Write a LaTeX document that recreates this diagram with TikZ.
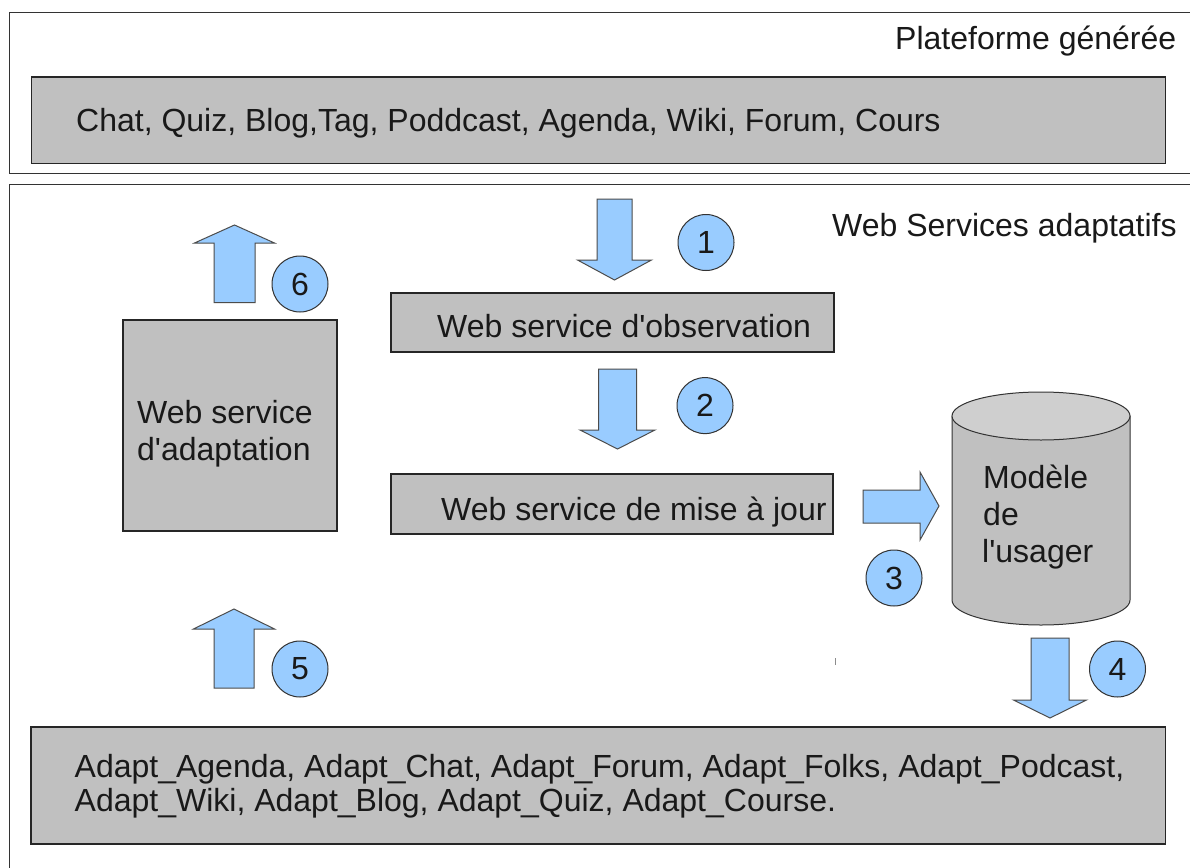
\documentclass[tikz,border=0pt]{standalone}
\usepackage{fontspec}
\setmainfont{Liberation Sans}[Ligatures=TeXOff]
\definecolor{boxgray}{HTML}{C0C0C0}
\definecolor{cyltop}{HTML}{CFCFCF}
\definecolor{lblue}{HTML}{99CCFF}
\newcommand\vblk[6]{\draw[blk] ({#1-#2},#3) -- ({#1+#2},#3) -- ({#1+#2},#4) -- ({#1+#5},#4) -- (#1,#6) -- ({#1-#5},#4) -- ({#1-#2},#4) -- cycle;}
\tikzset{
  frame/.style={draw=black!80, line width=1.5pt},
  graybox/.style={draw=black!85, line width=1.5pt, fill=boxgray, inner sep=0pt, anchor=north west},
  txt/.style={inner sep=0pt, anchor=base west, text=black!90, font=\fontsize{32}{37}\selectfont},
  num/.style={circle, draw=black!80, line width=1pt, fill=lblue, minimum size=56pt, inner sep=0pt, text=black!90, font=\fontsize{32}{37}\selectfont},
  blk/.style={draw=black!70, line width=1pt, fill=lblue, line join=miter},
}
\begin{document}
\begin{tikzpicture}[x=1pt, y=-1pt]
\useasboundingbox (0,0) rectangle (1190,867);
\clip (0,0) rectangle (1190,867);
\fill[white] (0,0) rectangle (1190,867);
% frames
\draw[frame] (9.5,12.7) rectangle (1205,173.3);
\draw[frame] (9.5,184.3) rectangle (1205,900);
\node[txt] (plattitle) at (895,49.3) {Plateforme générée};
\node[txt] (wstitle) at (832,236.7) {Web Services adaptatifs};
% top gray box
\node[graybox, minimum width=1134pt, minimum height=86.5pt] (plat) at (30.5,76) {};
\node[txt] (plattext) at (76,131.7) {Chat, Quiz, Blog,Tag, Poddcast, Agenda, Wiki, Forum, Cours};
% observation
\node[graybox, minimum width=443pt, minimum height=59pt] (obs) at (390,292) {};
\node[txt] (obstext) at (437,337) {Web service d'observation};
% mise a jour
\node[graybox, minimum width=442pt, minimum height=60pt] (maj) at (390,473) {};
\node[txt] (majtext) at (441,520) {Web service de mise à jour};
% adaptation
\node[graybox, minimum width=214pt, minimum height=211pt] (adapt) at (122,319) {};
\node[txt] (adapt1) at (137,423.3) {Web service};
\node[txt] (adapt2) at (137,460.7) {d'adaptation};
% bottom box
\node[graybox, minimum width=1134.3pt, minimum height=117.3pt] (adbox) at (30.3,726) {};
\node[txt] (adtext1) at (74.5,777) {Adapt\_Agenda, Adapt\_Chat, Adapt\_Forum, Adapt\_Folks, Adapt\_Podcast,};
\node[txt] (adtext2) at (74.5,811) {Adapt\_Wiki, Adapt\_Blog, Adapt\_Quiz, Adapt\_Course.};
% cylinder
\path[draw=black!80, line width=1pt, fill=boxgray] (952,416) -- (952,600) arc[start angle=180, end angle=360, x radius=89pt, y radius=25pt] -- (1130,416) -- cycle;
\draw[black!80, line width=1pt, fill=cyltop] (1041,416) ellipse [x radius=89pt, y radius=24pt];
\coordinate (cyl) at (1041,510);
\node[txt] (mod1) at (983,488) {Modèle};
\node[txt] (mod2) at (983,525) {de};
\node[txt] (mod3) at (982,562) {l'usager};
% block arrows
\vblk{614.5}{17.5}{199}{260}{37}{280}
\vblk{617.5}{19}{369}{430}{37.5}{449}
\vblk{1050}{19}{638}{700}{36.5}{718}
\vblk{234.5}{20.5}{302.7}{243}{40}{225}
\vblk{234}{20}{688}{629}{40.5}{609}
\draw[blk] (863,490) -- (920,490) -- (920,472) -- (939,506) -- (920,540) -- (920,523) -- (863,523) -- cycle;
% numbers
\node[num] (n1) at (706,242.5) {1};
\node[num] (n2) at (705,405.6) {2};
\node[num] (n3) at (894,578) {3};
\node[num] (n4) at (1117.5,669) {4};
\node[num] (n5) at (300,669) {5};
\node[num] (n6) at (300,284) {6};
% stray tick
\draw[black!45, line width=1pt] (835,658) -- (835,665);
\end{tikzpicture}
\end{document}
